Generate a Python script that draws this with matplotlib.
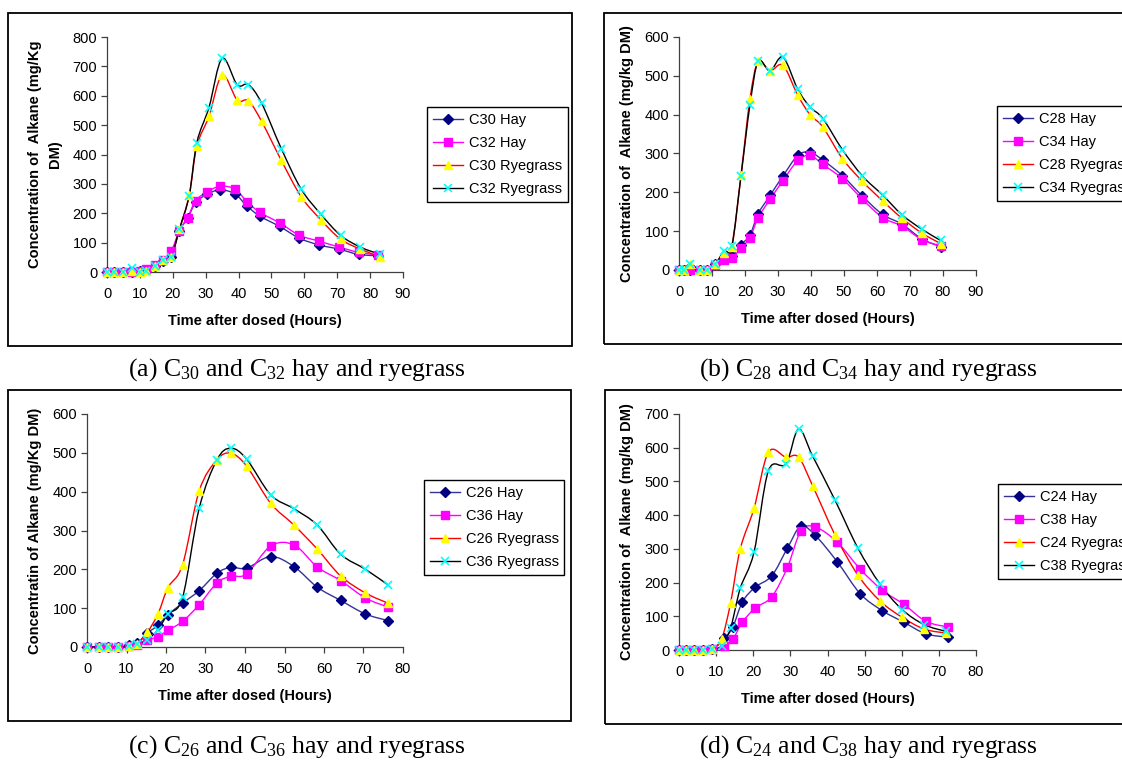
import numpy as np
import matplotlib
matplotlib.use("Agg")
import matplotlib.pyplot as plt
from matplotlib.path import Path
from matplotlib.patches import PathPatch, Rectangle
from matplotlib.lines import Line2D

W, H = 1122, 761

# (a) C30 / C32
a_hay_t = [0, 2, 5, 7.5, 10, 12, 14.5, 17, 19.5, 22, 24.5, 27, 30.5, 34.5, 39, 42.5, 46.5, 52.5, 58.5, 64.5, 70.5, 76.5, 82.5]
a_rye_t = [0, 2, 5, 7.5, 10, 12, 14.5, 17, 19.5, 22, 25, 27.3, 31, 35, 39.6, 43, 47, 53, 59, 65, 71, 77, 83]
a_c30_hay = [0, 0, 0, 0, 3, 8, 20, 38, 50, 140, 183, 237, 265, 280, 265, 225, 190, 155, 115, 92, 78, 60, 55]
a_c32_hay = [0, 0, 0, 0, 5, 10, 25, 40, 70, 140, 185, 243, 273, 292, 282, 240, 203, 167, 125, 105, 85, 67, 58]
a_c30_rye = [0, 0, 0, 5, 0, 5, 20, 40, 50, 145, 262, 428, 530, 670, 585, 583, 513, 380, 257, 178, 112, 78, 52]
a_c32_rye = [0, 0, 0, 15, 0, 5, 20, 40, 50, 145, 260, 440, 560, 727, 637, 638, 575, 420, 283, 197, 125, 85, 60]

# (b) C28 / C34
b_t = [0, 1.5, 3.3, 6.4, 8.6, 11, 13.6, 16, 18.8, 21.5, 24, 27.6, 31.5, 36, 39.7, 43.6, 49.5, 55.6, 61.7, 67.6, 73.6, 79.3]
b_c28_hay = [0, 0, 0, 0, 0, 15, 30, 35, 65, 90, 145, 192, 242, 295, 303, 283, 243, 190, 143, 118, 80, 60]
b_c34_hay = [0, 0, 0, 0, 0, 12, 27, 30, 57, 83, 135, 182, 230, 282, 295, 272, 235, 182, 135, 113, 78, 62]
b_c28_rye = [0, 0, 15, 0, 0, 15, 45, 58, 245, 440, 537, 513, 527, 450, 400, 368, 287, 228, 178, 133, 95, 68]
b_c34_rye = [0, 0, 15, 0, 0, 15, 48, 62, 243, 425, 537, 513, 548, 465, 420, 390, 310, 242, 193, 142, 105, 76]

# (c) C26 / C36
c_t = [0, 3, 5.4, 7.9, 10.7, 12.7, 15.3, 18, 20.5, 24.2, 28.4, 32.9, 36.4, 40.4, 46.5, 52.4, 58.3, 64.2, 70.5, 76.2]
c_c26_hay = [0, 0, 0, 0, 5, 10, 36, 56, 83, 113, 145, 190, 205, 203, 233, 207, 154, 120, 85, 68]
c_c36_hay = [0, 0, 0, 0, 2, 5, 17, 27, 43, 66, 109, 165, 182, 188, 260, 263, 206, 171, 126, 103]
c_c26_rye = [0, 0, 0, 0, 2, 8, 38, 86, 153, 212, 402, 482, 499, 466, 370, 314, 252, 183, 139, 113]
c_c36_rye = [0, 0, 0, 0, 2, 8, 19, 45, 85, 128, 357, 482, 512, 484, 392, 356, 314, 239, 200, 160]

# (d) C24 / C38
d_hay_t = [0, 2, 4, 6.5, 9, 12.2, 14.5, 17.1, 20.6, 25, 29.2, 32.8, 36.7, 42.6, 48.8, 54.7, 60.6, 66.5, 72.5]
d_rye_t = [0, 2, 4, 6.5, 9, 11.5, 13.9, 16.5, 20.2, 24.1, 28.8, 32.2, 36, 42, 48.2, 54.2, 60.1, 66.1, 72]
d_c24_hay = [0, 0, 0, 0, 3, 35, 68, 143, 187, 220, 302, 367, 340, 262, 167, 117, 82, 48, 38]
d_c38_hay = [0, 0, 0, 0, 2, 12, 32, 83, 125, 158, 245, 352, 365, 320, 240, 178, 135, 85, 68]
d_c24_rye = [0, 0, 0, 0, 3, 33, 140, 300, 420, 587, 572, 572, 487, 342, 222, 145, 97, 62, 50]
d_c38_rye = [0, 0, 0, 0, 3, 12, 65, 183, 290, 532, 552, 655, 575, 445, 302, 195, 120, 75, 55]

# line colour, marker, marker face, marker size
STYLES = [
    ("#333399", "D", "#000080", 4.8),
    ("#ff00ff", "s", "#ff00ff", 5.2),
    ("#ff0000", "^", "#ffff00", 6.2),
    ("#000000", "x", "#00ffff", 6.2),
]

FONT = "Liberation Sans"


def smooth_path(x, y):
    # excel style smoothed line through the points
    pts = np.column_stack([x, y]).astype(float)
    verts = [pts[0]]
    codes = [Path.MOVETO]
    n = len(pts)
    for i in range(n - 1):
        p0 = pts[i - 1] if i > 0 else pts[i]
        p1 = pts[i]
        p2 = pts[i + 1]
        p3 = pts[i + 2] if i + 2 < n else pts[i + 1]
        verts += [p1 + (p2 - p0) / 6, p2 - (p3 - p1) / 6, p2]
        codes += [Path.CURVE4] * 3
    return Path(verts, codes)


def px_rect(x0, y0, x1, y1):
    return [x0 / W, 1 - y1 / H, (x1 - x0) / W, (y1 - y0) / H]


def draw_panel(fig, rect, series, labels, ylabel, xmax, ymax, leg_xy):
    ax = fig.add_axes(px_rect(*rect))
    handles = []
    for (t, v), (lc, mk, mf, ms) in zip(series, STYLES):
        ax.add_patch(PathPatch(smooth_path(t, v), fill=False, edgecolor=lc,
                               lw=1.0, clip_on=False, zorder=2))
        if mk == "x":
            ax.plot(t, v, ls="none", marker=mk, color=mf, ms=ms, mew=1.2,
                    clip_on=False, zorder=3)
            h = Line2D([], [], color=lc, lw=1.0, marker=mk, mec=mf, ms=ms, mew=1.2)
        else:
            ax.plot(t, v, ls="none", marker=mk, mfc=mf, mec=mf, ms=ms,
                    clip_on=False, zorder=3)
            h = Line2D([], [], color=lc, lw=1.0, marker=mk, mfc=mf, mec=mf, ms=ms)
        handles.append(h)
    ax.set_xlim(0, xmax)
    ax.set_ylim(0, ymax)
    ax.set_xticks(np.arange(0, xmax + 1, 10))
    ax.set_yticks(np.arange(0, ymax + 1, 100))
    for s in ["top", "right"]:
        ax.spines[s].set_visible(False)
    for s in ["left", "bottom"]:
        ax.spines[s].set_color("#404040")
        ax.spines[s].set_linewidth(0.9)
    ax.tick_params(direction="out", length=4, width=0.9, color="#404040",
                   labelsize=10.5, pad=3)
    ax.tick_params(axis="x", pad=7)
    for lab in ax.get_xticklabels() + ax.get_yticklabels():
        lab.set_fontfamily(FONT)
    ax.set_xlabel("Time after dosed (Hours)", fontfamily=FONT, fontweight="bold",
                  fontsize=10.5, labelpad=9)
    ax.set_ylabel(ylabel, fontfamily=FONT, fontweight="bold", fontsize=10.5,
                  labelpad=8, linespacing=1.5)
    fig.legend(handles, labels, loc="upper left",
               bbox_to_anchor=(leg_xy[0] / W, 1 - leg_xy[1] / H),
               bbox_transform=fig.transFigure, borderaxespad=0, frameon=True,
               fancybox=False, edgecolor="black", framealpha=1,
               prop={"family": FONT, "size": 10.5}, handlelength=2.1,
               labelspacing=0.62, borderpad=0.4, handletextpad=0.35)
    return ax


def main():
    fig = plt.figure(figsize=(W / 100, H / 100), dpi=100)

    # panel frames
    for x0, y0, x1, y1 in [(8, 13, 572, 346), (604, 13, 1135, 344),
                           (8, 390, 571, 721), (605, 390, 1135, 724)]:
        fig.add_artist(Rectangle((x0 / W, 1 - y1 / H), (x1 - x0) / W, (y1 - y0) / H,
                                 transform=fig.transFigure, fill=False,
                                 ec="black", lw=1.3, clip_on=False))

    draw_panel(fig, (107, 37, 403, 272),
               [(a_hay_t, a_c30_hay), (a_hay_t, a_c32_hay), (a_rye_t, a_c30_rye), (a_rye_t, a_c32_rye)],
               ["C30 Hay", "C32 Hay", "C30 Ryegrass", "C32 Ryegrass"],
               "Concentration of  Alkane (mg/Kg\nDM)", 90, 800, (427, 107))
    draw_panel(fig, (679, 37, 976, 270),
               [(b_t, b_c28_hay), (b_t, b_c34_hay), (b_t, b_c28_rye), (b_t, b_c34_rye)],
               ["C28 Hay", "C34 Hay", "C28 Ryegrass", "C34 Ryegrass"],
               "Concentration of  Alkane (mg/kg DM)", 90, 600, (997, 106))
    draw_panel(fig, (87, 414, 403, 647),
               [(c_t, c_c26_hay), (c_t, c_c36_hay), (c_t, c_c26_rye), (c_t, c_c36_rye)],
               ["C26 Hay", "C36 Hay", "C26 Ryegrass", "C36 Ryegrass"],
               "Concentratin of Alkane (mg/Kg DM)", 80, 600, (424, 480))
    draw_panel(fig, (679, 414, 976, 650),
               [(d_hay_t, d_c24_hay), (d_hay_t, d_c38_hay), (d_rye_t, d_c24_rye), (d_rye_t, d_c38_rye)],
               ["C24 Hay", "C38 Hay", "C24 Ryegrass", "C38 Ryegrass"],
               "Concentration of  Alkane (mg/kg DM)", 80, 700, (998, 484))

    captions = [
        (297, 370, r"(a) C$_{30}$ and C$_{32}$ hay and ryegrass"),
        (868, 370, r"(b) C$_{28}$ and C$_{34}$ hay and ryegrass"),
        (297, 747, r"(c) C$_{26}$ and C$_{36}$ hay and ryegrass"),
        (868, 747, r"(d) C$_{24}$ and C$_{38}$ hay and ryegrass"),
    ]
    plt.rcParams["mathtext.fontset"] = "custom"
    plt.rcParams["mathtext.rm"] = "Liberation Serif"
    plt.rcParams["mathtext.it"] = "Liberation Serif"
    for x, y, txt in captions:
        fig.text(x / W, 1 - y / H, txt, ha="center", va="center",
                 fontfamily="Liberation Serif", fontsize=18.5)

    fig.savefig("out.png", dpi=100)


if __name__ == "__main__":
    main()
